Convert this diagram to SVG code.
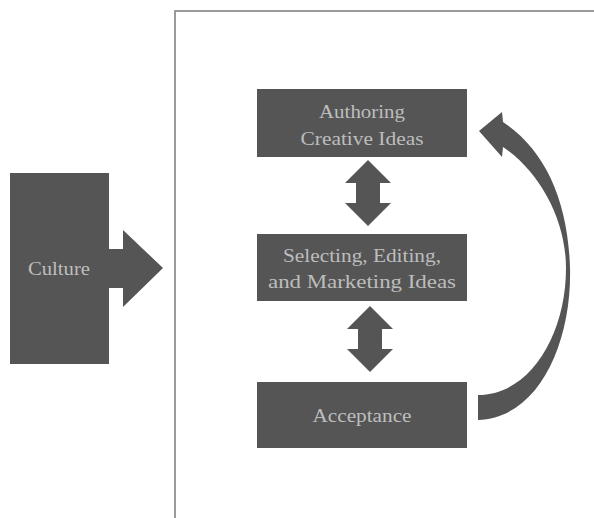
<svg xmlns="http://www.w3.org/2000/svg" width="594" height="518" viewBox="0 0 594 518">
<style>
.box{fill:#555555}
.arr{fill:#555555}
.t{font-family:"Liberation Serif","DejaVu Serif",serif;font-size:19px;fill:#bdbdbd;text-anchor:middle}
</style>
<rect width="594" height="518" fill="#ffffff"/>
<path d="M175,518 V11 H594" fill="none" stroke="#9a9a9a" stroke-width="2"/>
<g id="culture">
<rect class="box" x="10" y="173" width="99" height="191"/>
<text class="t" x="59" y="275" textLength="62" lengthAdjust="spacingAndGlyphs">Culture</text>
</g>
<g id="authoring">
<rect class="box" x="257" y="89" width="210" height="68"/>
<text class="t" x="362" y="118" textLength="86" lengthAdjust="spacingAndGlyphs">Authoring</text>
<text class="t" x="362" y="145" textLength="123" lengthAdjust="spacingAndGlyphs">Creative Ideas</text>
</g>
<g id="selecting">
<rect class="box" x="257" y="234" width="210" height="67"/>
<text class="t" x="362" y="262" textLength="158" lengthAdjust="spacingAndGlyphs">Selecting, Editing,</text>
<text class="t" x="362" y="288" textLength="188" lengthAdjust="spacingAndGlyphs">and Marketing Ideas</text>
</g>
<g id="acceptance">
<rect class="box" x="257" y="382" width="210" height="66"/>
<text class="t" x="362" y="422" textLength="99" lengthAdjust="spacingAndGlyphs">Acceptance</text>
</g>
<g id="connectors">
<path class="arr" d="M109,249 H123 V230 L163,268 L123,307 V288 H109 Z"/>
<path class="arr" d="M368,160 L391,183 H380 V203 H391 L368,226 L345,203 H356 V183 H345 Z"/>
<path class="arr" d="M370,306 L393,329 H382 V349 H393 L370,372 L347,349 H358 V329 H347 Z"/>
<path class="arr" d="M478,420 C540,418 572,340 570,268 C568,200 545,150 503,122 L502,112 L479,131 L502,157 L503,147 C540,172 566,220 566,268 C566,335 530,395 478,395 Z"/>
</g>
</svg>
